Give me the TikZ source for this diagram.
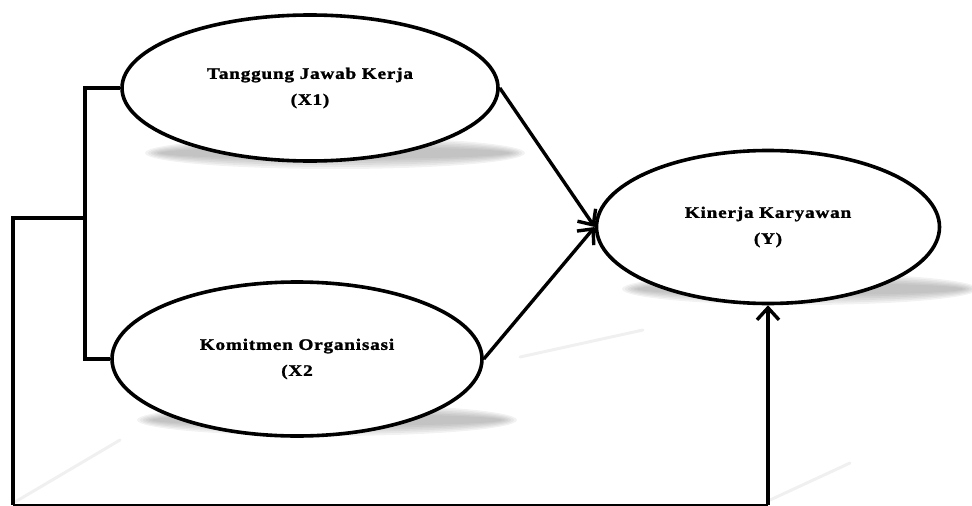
\documentclass[tikz,border=0pt]{standalone}
\usepackage{fontspec}
\setmainfont{Liberation Serif}
\newfontfamily\labelfont[FakeStretch=1.2, LetterSpace=5, FakeBold=1.5]{Liberation Serif}
\usetikzlibrary{shapes.geometric, arrows.meta}

\tikzset{
  variabel/.style={ellipse, draw, fill=white, line width=3.6pt, inner sep=0pt,
    align=center, font=\labelfont\bfseries\fontsize{16}{26}\selectfont},
  panah/.style={line width=3.4pt, -{Straight Barb[length=12pt, width=22pt, line width=3.4pt]}},
  garis/.style={line width=4pt},
  bayang/.style={gray, opacity=0.1},
  jejak/.style={gray!12, line width=3pt, line cap=round}
}

\begin{document}
\begin{tikzpicture}[x=1pt, y=-1pt]
\useasboundingbox (0, 0) rectangle (972, 506);
% bayangan
\foreach \k in {1,...,6} {
  \fill[bayang] (335, 153) ellipse ({172+3*\k} and {4+2*\k});
  \fill[bayang] (327, 420) ellipse ({172+3*\k} and {4+2*\k});
  \fill[bayang] (800, 289) ellipse ({160+3*\k} and {4+2*\k});
}
\draw[jejak] (15, 502) -- (120, 440);
\draw[jejak] (113, 350) -- (227, 300);
\draw[jejak] (520, 357) -- (643, 330);
\draw[jejak] (770, 500) -- (850, 463);
% variabel
\node[variabel, minimum width=376pt, minimum height=146pt] (X1) at (310, 88) {Tanggung Jawab Kerja\\(X1)};
\node[variabel, minimum width=370pt, minimum height=154pt] (X2) at (297, 359) {Komitmen Organisasi\\(X2};
\node[variabel, minimum width=343pt, minimum height=153pt] (Y) at (768, 227) {Kinerja Karyawan\\(Y)};
% garis
\coordinate (simpul) at (85, 218);
\coordinate (kiri) at (13, 218);
\coordinate (bawah) at (13, 505);
\coordinate (ujung) at (768, 505);
\draw[garis] (X1.west) -| (simpul) |- (X2.west);
\draw[garis] (simpul) -- (kiri) -- (bawah);
\draw[line width=1.6pt] (bawah) -- (ujung);
% panah
\draw[panah] (X1.east) -- (Y.west);
\draw[panah] (X2.east) -- (Y.west);
\draw[panah] (ujung) -- (Y.south);
\end{tikzpicture}
\end{document}
